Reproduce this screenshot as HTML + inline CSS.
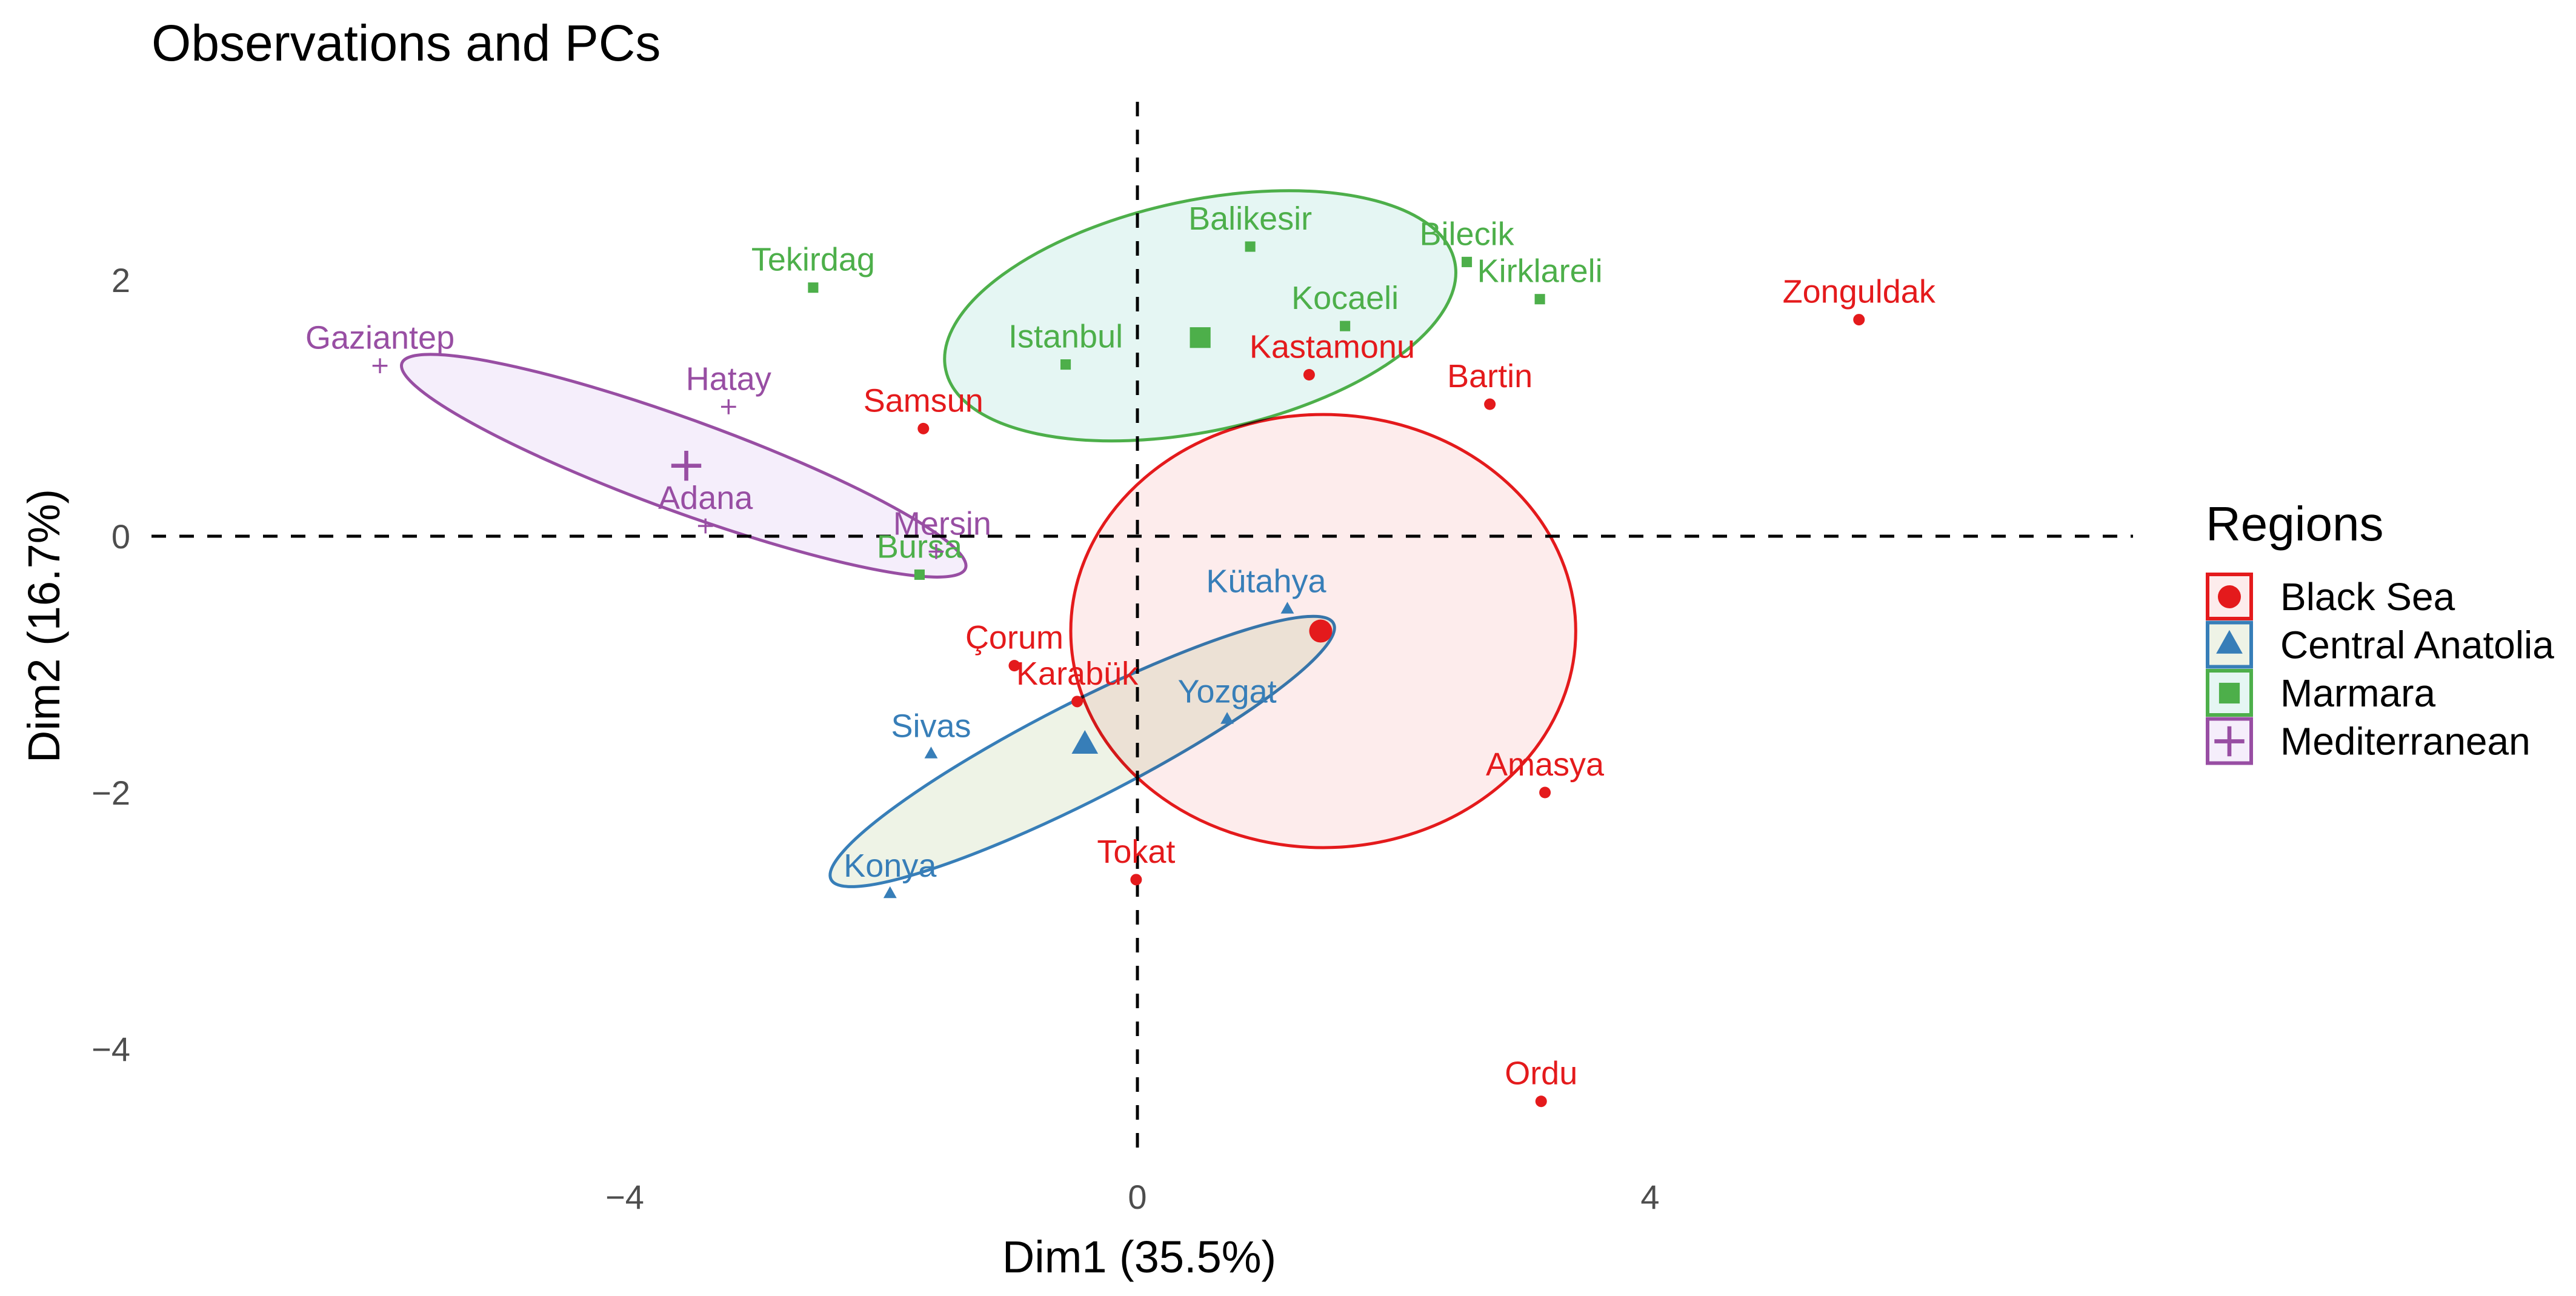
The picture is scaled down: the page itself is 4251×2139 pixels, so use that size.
<!DOCTYPE html>
<html><head><meta charset="utf-8"><style>
html,body{margin:0;padding:0;background:#fff}
svg{display:block;font-family:"Liberation Sans",Arial,sans-serif}
</style></head><body>
<svg id="chart" width="4251" height="2139" viewBox="0 0 4251 2139">
<text x="250" y="100" font-size="84" fill="#000">Observations and PCs</text>
<g id="ellipses"></g>
<g id="refs"></g>
<g id="points"></g>
<g id="axes"></g>
<text x="1880" y="2100" font-size="74" text-anchor="middle">Dim1 (35.5%)</text>
<text x="0" y="0" font-size="74" text-anchor="middle" transform="translate(98,1033) rotate(-90)">Dim2 (16.7%)</text>
<g>
<text x="3640" y="892" font-size="80">Regions</text>
<g id="legend"></g>
</g>
</svg>
<script>
const regions = ["Black Sea","Central Anatolia","Marmara","Mediterranean"];
const regionColors = ["#E41A1C","#377EB8","#4DAF4A","#984EA3"];
const regionFills = ["#FDECEC","#EEF3E6","#E5F6F3","#F5EEFB"];
const names = ["Zonguldak","Kastamonu","Bartin","Samsun","Çorum","Karabük","Tokat","Amasya","Ordu",
 "Kütahya","Yozgat","Sivas","Konya",
 "Balikesir","Bilecik","Kirklareli","Tekirdag","Kocaeli","Istanbul","Bursa",
 "Gaziantep","Hatay","Adana","Mersin"];
const group = [0,0,0,0,0,0,0,0,0, 1,1,1,1, 2,2,2,2,2,2,2, 3,3,3,3];
const dim1 = [5.63,1.34,2.75,-1.67,-0.96,-0.47,-0.01,3.18,3.15, 1.17,0.70,-1.61,-1.93, 0.88,2.57,3.14,-2.53,1.62,-0.56,-1.70, -5.91,-3.19,-3.37,-1.57];
const dim2 = [1.69,1.26,1.03,0.84,-1.01,-1.29,-2.68,-2.00,-4.41, -0.57,-1.43,-1.70,-2.79, 2.26,2.14,1.85,1.94,1.64,1.34,-0.30, 1.33,1.01,0.08,-0.12];
const centroidX = [1.43,-0.41,0.49,-3.52];
const centroidY = [-0.74,-1.63,1.55,0.55];
const ellCX = [1.45,-0.43,0.49,-3.54];
const ellCY = [-0.74,-1.68,1.72,0.55];
const ellRX = [1.97,2.20,2.03,2.34];
const ellRY = [1.69,0.38,0.90,0.36];
const ellRot = [0,-27,-12,20];
const xTicks = [-4,0,4];
const yTicks = [-4,-2,0,2];
const labelDX = [0,38,0,0,0,0,0,0,0, -35,0,0,0, 0,0,0,0,0,0,0, 0,0,0,10];

const X0=1877, Y0=885, U=211.5;
const sx = v => X0 + v*U;
const sy = v => Y0 - v*U;
const NS="http://www.w3.org/2000/svg";
function mk(tag, attrs, parent){const e=document.createElementNS(NS,tag);for(const k in attrs)e.setAttribute(k,attrs[k]);parent.appendChild(e);return e;}

const gE=document.getElementById('ellipses');
for(let i=0;i<4;i++){
  const e=mk('ellipse',{cx:sx(ellCX[i]),cy:sy(ellCY[i]),rx:ellRX[i]*U,ry:ellRY[i]*U,transform:`rotate(${ellRot[i]} ${sx(ellCX[i])} ${sy(ellCY[i])})`,fill:regionFills[i],stroke:regionColors[i],'stroke-width':5,style:'mix-blend-mode:multiply'},gE);
  
  
}
const gR=document.getElementById('refs');
let l1=mk('line',{x1:250,x2:3520,y1:sy(0),y2:sy(0),stroke:'#000','stroke-width':5,'stroke-dasharray':'24 22'},gR);


let l2=mk('line',{x1:sx(0),x2:sx(0),y1:168,y2:1898,stroke:'#000','stroke-width':5,'stroke-dasharray':'24 22'},gR);



function marker(g,x,y,s,p){
  const c=regionColors[g];
  if(g===0) return mk('circle',{cx:x,cy:y,r:s,fill:c},p);
  if(g===1) return mk('polygon',{points:`${x},${y-s*1.3} ${x-s*1.15},${y+s*0.75} ${x+s*1.15},${y+s*0.75}`,fill:c},p);
  if(g===2) return mk('rect',{x:x-s*0.9,y:y-s*0.9,width:s*1.8,height:s*1.8,fill:c},p);
  return mk('path',{d:`M${x-s*1.3},${y}H${x+s*1.3}M${x},${y-s*1.3}V${y+s*1.3}`,stroke:c,'stroke-width':s*0.35},p);
}
const gP=document.getElementById('points');
for(let i=0;i<names.length;i++){
  const x=sx(dim1[i]),y=sy(dim2[i]);
  const m=marker(group[i],x,y,9.5,gP);
  
  
  const t=mk('text',{x:x+labelDX[i],y:y-28,'font-size':54,'text-anchor':'middle',fill:regionColors[group[i]]},gP);
  t.textContent=names[i];
  
  
}
for(let i=0;i<4;i++){
  const m=marker(i,sx(centroidX[i]),sy(centroidY[i]),19,gP);
  
  
}
const gA=document.getElementById('axes');
xTicks.forEach(v=>{const t=mk('text',{x:sx(v),y:1995,'font-size':56,'text-anchor':'middle',fill:'#4D4D4D'},gA);t.textContent=(v<0?'\u2212':'')+Math.abs(v);

});
yTicks.forEach(v=>{const t=mk('text',{x:215,y:sy(v)+20,'font-size':56,'text-anchor':'end',fill:'#4D4D4D'},gA);t.textContent=(v<0?'\u2212':'')+Math.abs(v);

});

const gL=document.getElementById('legend');
for(let i=0;i<4;i++){
  const y=945+i*79.5;
  const g=mk('g',{},gL);
  
  
  mk('rect',{x:3643,y:y+3,width:72,height:73,fill:regionFills[i],stroke:regionColors[i],'stroke-width':6},g);
  marker(i,3679,y+40,19,g);
  const t=mk('text',{x:3763,y:y+62,'font-size':64,fill:'#000'},g);
  t.textContent=regions[i];
}
</script>
</body></html>
